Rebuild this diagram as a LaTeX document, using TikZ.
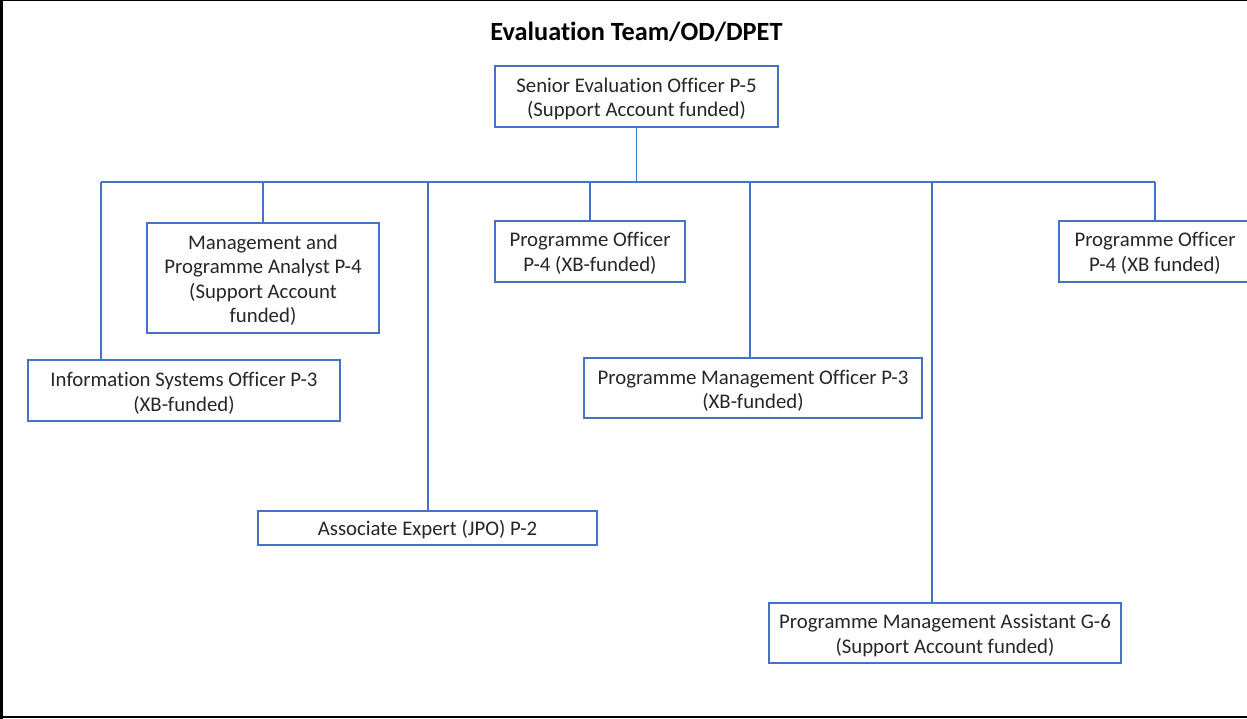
\documentclass[tikz,border=0pt]{standalone}
\usepackage{fontspec}
\setmainfont{Carlito}[Ligatures=NoCommon]
\begin{document}
\begin{tikzpicture}[x=1pt,y=-1pt,
  box/.style={draw=boxblue, line width=1.3pt, rectangle, inner sep=0pt},
  lbl/.style={inner sep=0pt, align=center, font=\fontsize{20.8}{24.5}\selectfont, text=black!85},
  conn/.style={draw=boxblue, line width=1.3pt}]
\definecolor{boxblue}{HTML}{4472C4}
\useasboundingbox (0,0) rectangle (1247,719);
\clip (0,0) rectangle (1247,719);
% frame
\draw[line width=1.5pt] (0,0.75) -- (1247,0.75);
\draw[line width=2.5pt] (1.5,0) -- (1.5,719);
\draw[line width=2.5pt] (0,717) -- (1247,717);
% title
\node[font=\bfseries\fontsize{26.3}{28}\selectfont] (title) at (636.5,32) {Evaluation Team/OD/DPET};
% boxes
\node[box, minimum width=283pt, minimum height=61pt] (senior) at (636.5,96.5) {};
\node[box, minimum width=232pt, minimum height=110pt] (mpa) at (263,278) {};
\node[box, minimum width=312pt, minimum height=61pt] (iso) at (184,390.5) {};
\node[box, minimum width=339pt, minimum height=34pt] (ae) at (427.5,528) {};
\node[box, minimum width=190pt, minimum height=61pt] (po1) at (590,251.5) {};
\node[box, minimum width=338pt, minimum height=60pt] (pmo) at (753,388) {};
\node[box, minimum width=352pt, minimum height=60pt] (pma) at (945,633) {};
\node[box, minimum width=192pt, minimum height=61pt] (po2) at (1155,251.5) {};
% texts
\node[lbl] (seniorT) at ([yshift=-2.5pt]senior.center) {Senior Evaluation Officer P-5\\(Support Account funded)};
\node[lbl] (mpaT) at ([yshift=-2pt]mpa.center) {Management and\\Programme Analyst P-4\\(Support Account\\funded)};
\node[lbl] (isoT) at ([yshift=-3pt]iso.center) {Information Systems Officer P-3\\(XB-funded)};
\node[lbl] (aeT) at ([yshift=-2pt]ae.center) {Associate Expert (JPO) P-2};
\node[lbl] (po1T) at ([yshift=-2pt]po1.center) {Programme Officer\\P-4 (XB-funded)};
\node[lbl] (pmoT) at ([yshift=-3pt]pmo.center) {Programme Management Officer P-3\\(XB-funded)};
\node[lbl] (pmaT) at ([yshift=-2.5pt]pma.center) {Programme Management Assistant G-6\\(Support Account funded)};
\node[lbl] (po2T) at ([yshift=-2pt]po2.center) {Programme Officer\\P-4 (XB funded)};
% bus taps
\coordinate (bus) at (636.5,182);
\coordinate (tIso) at (101,182);
\coordinate (tMpa) at (263,182);
\coordinate (tAe) at (428,182);
\coordinate (tPo1) at (590,182);
\coordinate (tPmo) at (750,182);
\coordinate (tPma) at (932,182);
\coordinate (tPo2) at (1155,182);
% connectors
\draw[conn] (senior.south) -- (bus);
\draw[conn] (tIso) -- (tPo2);
\draw[conn] (tIso) -- (tIso |- iso.north);
\draw[conn] (tMpa) -- (tMpa |- mpa.north);
\draw[conn] (tAe) -- (tAe |- ae.north);
\draw[conn] (tPo1) -- (tPo1 |- po1.north);
\draw[conn] (tPmo) -- (tPmo |- pmo.north);
\draw[conn] (tPma) -- (tPma |- pma.north);
\draw[conn] (tPo2) -- (tPo2 |- po2.north);
\end{tikzpicture}
\end{document}
